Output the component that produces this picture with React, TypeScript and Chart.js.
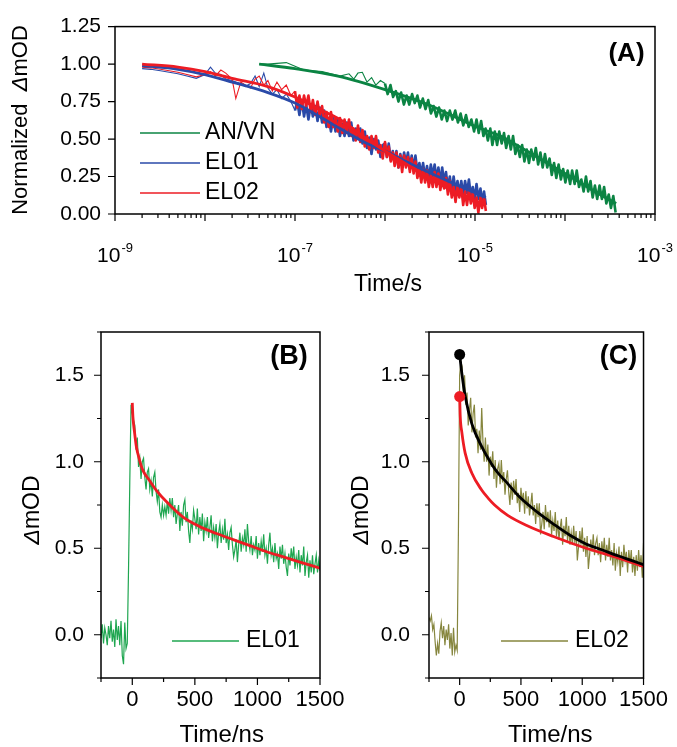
import React, { useEffect, useRef } from "react";
import { Chart, registerables } from "chart.js";

Chart.register(...registerables);

const FONT = "'Liberation Sans', Arial, sans-serif";

// ---------------- Panel A data (time in s, normalized ΔmOD) ----------------
const A_EL_TIME = [
  2.0e-9, 2.5e-9, 3.2e-9, 4.0e-9, 5.0e-9, 6.3e-9, 8.0e-9, 1.0e-8, 1.15e-8, 1.3e-8,
  1.5e-8, 1.7e-8, 2.0e-8, 2.2e-8, 2.5e-8, 2.8e-8, 3.2e-8, 3.6e-8, 4.0e-8, 4.5e-8,
  5.0e-8, 5.6e-8, 6.3e-8, 7.1e-8, 8.0e-8, 9.0e-8,
  1.0e-7, 1.06e-7, 1.12e-7, 1.19e-7, 1.26e-7, 1.33e-7, 1.41e-7, 1.5e-7, 1.58e-7, 1.68e-7,
  1.78e-7, 1.88e-7, 2.0e-7, 2.11e-7, 2.24e-7, 2.37e-7, 2.51e-7, 2.66e-7, 2.82e-7, 2.99e-7,
  3.16e-7, 3.35e-7, 3.55e-7, 3.76e-7, 3.98e-7, 4.22e-7, 4.47e-7, 4.73e-7, 5.01e-7, 5.31e-7,
  5.62e-7, 5.96e-7, 6.31e-7, 6.68e-7, 7.08e-7, 7.5e-7, 7.94e-7, 8.41e-7, 8.91e-7, 9.44e-7,
  1.0e-6, 1.05e-6, 1.1e-6, 1.16e-6, 1.22e-6, 1.28e-6, 1.34e-6, 1.41e-6, 1.48e-6, 1.55e-6,
  1.63e-6, 1.71e-6, 1.8e-6, 1.89e-6, 1.98e-6, 2.08e-6, 2.18e-6, 2.29e-6, 2.41e-6, 2.53e-6,
  2.65e-6, 2.79e-6, 2.93e-6, 3.07e-6, 3.23e-6, 3.39e-6, 3.56e-6, 3.73e-6, 3.92e-6, 4.12e-6,
  4.32e-6, 4.54e-6, 4.76e-6, 5.0e-6, 5.25e-6, 5.52e-6, 5.79e-6, 6.08e-6, 6.39e-6, 6.7e-6,
  7.04e-6, 7.39e-6, 7.76e-6, 8.15e-6, 8.56e-6, 8.99e-6, 9.44e-6, 9.91e-6,
  1.04e-5, 1.09e-5, 1.15e-5, 1.2e-5, 1.26e-5, 1.32e-5,
];
const A_EL01 = [
  0.97, 0.965, 0.955, 0.945, 0.935, 0.92, 0.905, 0.93, 0.98, 0.94,
  0.93, 0.9, 0.89, 0.88, 0.87, 0.85, 0.87, 0.92, 0.85, 0.94,
  0.84, 0.8, 0.83, 0.77, 0.8, 0.75,
  0.69, 0.75, 0.66, 0.76, 0.65, 0.73, 0.63, 0.73, 0.65, 0.72,
  0.62, 0.71, 0.61, 0.69, 0.58, 0.64, 0.55, 0.64, 0.55, 0.63,
  0.52, 0.6, 0.52, 0.61, 0.52, 0.61, 0.49, 0.57, 0.5, 0.57,
  0.47, 0.55, 0.44, 0.51, 0.4, 0.5, 0.43, 0.49, 0.38, 0.46,
  0.47, 0.38, 0.47, 0.36, 0.42, 0.34, 0.42, 0.31, 0.4, 0.32,
  0.41, 0.34, 0.41, 0.3, 0.39, 0.3, 0.39, 0.28, 0.34, 0.26,
  0.34, 0.24, 0.32, 0.23, 0.33, 0.25, 0.33, 0.23, 0.31, 0.21,
  0.31, 0.21, 0.28, 0.17, 0.25, 0.15, 0.25, 0.15, 0.22, 0.13,
  0.22, 0.13, 0.22, 0.14, 0.23, 0.12, 0.18, 0.1,
  0.2, 0.1, 0.17, 0.07, 0.15, 0.06,
];
const A_EL02 = [
  0.98, 0.975, 0.965, 0.955, 0.945, 0.93, 0.915, 0.93, 0.95, 0.92,
  0.96, 0.94, 0.9, 0.77, 0.88, 0.86, 0.84, 0.9, 0.92, 0.86,
  0.89, 0.82, 0.88, 0.83, 0.86, 0.79,
  0.82, 0.71, 0.79, 0.7, 0.79, 0.72, 0.79, 0.68, 0.76, 0.66,
  0.75, 0.66, 0.72, 0.61, 0.68, 0.58, 0.68, 0.58, 0.64, 0.55,
  0.64, 0.54, 0.63, 0.54, 0.63, 0.52, 0.57, 0.49, 0.59, 0.48,
  0.56, 0.45, 0.52, 0.43, 0.52, 0.44, 0.52, 0.41, 0.46, 0.37,
  0.48, 0.38, 0.45, 0.35, 0.41, 0.32, 0.41, 0.31, 0.39, 0.28,
  0.39, 0.31, 0.38, 0.28, 0.37, 0.27, 0.35, 0.24, 0.3, 0.21,
  0.3, 0.21, 0.29, 0.18, 0.26, 0.18, 0.28, 0.18, 0.27, 0.16,
  0.24, 0.17, 0.24, 0.13, 0.22, 0.11, 0.18, 0.08, 0.18, 0.11,
  0.18, 0.06, 0.15, 0.06, 0.16, 0.07, 0.14, 0.04,
  0.11, 0.01, 0.11, 0.04, 0.11, 0.02,
];
const A_AN_TIME = [
  4.0e-8, 5.0e-8, 6.3e-8, 8.0e-8, 1.0e-7, 1.26e-7, 1.58e-7, 2.0e-7, 2.51e-7, 3.16e-7,
  3.98e-7, 4.5e-7, 5.0e-7, 5.6e-7, 6.3e-7, 7.1e-7, 7.9e-7, 8.9e-7,
  1.0e-6, 1.07e-6, 1.15e-6, 1.23e-6, 1.32e-6, 1.41e-6, 1.51e-6, 1.62e-6, 1.74e-6, 1.86e-6,
  2.0e-6, 2.14e-6, 2.29e-6, 2.45e-6, 2.63e-6, 2.82e-6, 3.02e-6, 3.24e-6, 3.47e-6, 3.72e-6,
  3.98e-6, 4.27e-6, 4.57e-6, 4.9e-6, 5.25e-6, 5.62e-6, 6.03e-6, 6.46e-6, 6.92e-6, 7.41e-6,
  7.94e-6, 8.51e-6, 9.12e-6, 9.77e-6,
  1.04e-5, 1.1e-5, 1.17e-5, 1.24e-5, 1.31e-5, 1.39e-5, 1.48e-5, 1.56e-5, 1.66e-5, 1.76e-5,
  1.86e-5, 1.98e-5, 2.1e-5, 2.22e-5, 2.36e-5, 2.5e-5, 2.65e-5, 2.81e-5, 2.97e-5, 3.15e-5,
  3.34e-5, 3.54e-5, 3.76e-5, 3.98e-5, 4.22e-5, 4.47e-5, 4.74e-5, 5.03e-5, 5.33e-5, 5.65e-5,
  5.99e-5, 6.35e-5, 6.73e-5, 7.13e-5, 7.56e-5, 8.01e-5, 8.49e-5, 9.0e-5, 9.54e-5,
  1.01e-4, 1.07e-4, 1.14e-4, 1.2e-4, 1.28e-4, 1.35e-4, 1.43e-4, 1.52e-4, 1.61e-4, 1.71e-4,
  1.81e-4, 1.92e-4, 2.03e-4, 2.15e-4, 2.28e-4, 2.42e-4, 2.57e-4, 2.72e-4, 2.88e-4, 3.06e-4,
  3.24e-4, 3.44e-4, 3.65e-4,
];
const A_ANVN = [
  1.0, 1.0, 1.005, 1.01, 0.985, 0.96, 0.955, 0.95, 0.935, 0.92,
  0.935, 0.9, 0.94, 0.945, 0.88, 0.91, 0.86, 0.89,
  0.87, 0.8, 0.86, 0.78, 0.82, 0.75, 0.81, 0.73, 0.79, 0.73,
  0.8, 0.74, 0.79, 0.71, 0.77, 0.7, 0.76, 0.67, 0.72, 0.65,
  0.71, 0.63, 0.69, 0.62, 0.69, 0.63, 0.69, 0.61, 0.67, 0.59,
  0.66, 0.58, 0.63, 0.55,
  0.63, 0.54, 0.62, 0.52, 0.57, 0.49, 0.57, 0.46, 0.55, 0.46,
  0.55, 0.47, 0.54, 0.44, 0.52, 0.43, 0.52, 0.4, 0.46, 0.38,
  0.46, 0.35, 0.43, 0.34, 0.43, 0.36, 0.44, 0.33, 0.41, 0.31,
  0.4, 0.31, 0.37, 0.26, 0.34, 0.24, 0.33, 0.23, 0.3,
  0.21, 0.29, 0.2, 0.29, 0.2, 0.29, 0.18, 0.23, 0.15, 0.25,
  0.15, 0.22, 0.11, 0.19, 0.1, 0.19, 0.1, 0.18, 0.07, 0.13,
  0.04, 0.12, 0.01,
];
const A_FIT_EL_TIME = [2e-9, 5e-9, 1e-8, 2e-8, 5e-8, 1e-7, 2e-7, 3.16e-7, 6.3e-7, 1e-6, 2e-6, 5e-6, 1.32e-5];
const A_FIT_EL01 = [0.99, 0.965, 0.93, 0.88, 0.81, 0.74, 0.64, 0.57, 0.47, 0.42, 0.33, 0.22, 0.11];
const A_FIT_EL02 = [1.0, 0.98, 0.95, 0.905, 0.85, 0.78, 0.69, 0.63, 0.5, 0.42, 0.31, 0.17, 0.06];
const A_FIT_AN_TIME = [4e-8, 1e-7, 3e-7, 1e-6, 3e-6, 1e-5, 2e-5, 3e-5, 1e-4, 2e-4, 3.7e-4];
const A_FIT_ANVN = [1.0, 0.97, 0.92, 0.83, 0.73, 0.585, 0.515, 0.455, 0.27, 0.16, 0.07];
const A_DECADES = [-9, -8, -7, -6, -5, -4];
const A_SIGNIF = [1, 2, 3, 4, 5, 6, 7, 8, 9];
const A_LABEL_EXP = [-9, -7, -5, -3];
const A_Y_TICKS = [0, 0.25, 0.5, 0.75, 1.0, 1.25];

// ---------------- Panels B and C (time in ns, ΔmOD) ----------------
const NS_TIME = [
  -250, -240, -230, -220, -210, -200, -190, -180, -170, -160,
  -150, -140, -130, -120, -110, -100, -90, -80, -70, -60,
  -50, -40, -30, -20, -10, 0, 10, 20, 30, 40,
  50, 60, 70, 80, 90, 100, 110, 120, 130, 140,
  150, 160, 170, 180, 190, 200, 210, 220, 230, 240,
  250, 260, 270, 280, 290, 300, 310, 320, 330, 340,
  350, 360, 370, 380, 390, 400, 410, 420, 430, 440,
  450, 460, 470, 480, 490, 500, 510, 520, 530, 540,
  550, 560, 570, 580, 590, 600, 610, 620, 630, 640,
  650, 660, 670, 680, 690, 700, 710, 720, 730, 740,
  750, 760, 770, 780, 790, 800, 810, 820, 830, 840,
  850, 860, 870, 880, 890, 900, 910, 920, 930, 940,
  950, 960, 970, 980, 990, 1000, 1010, 1020, 1030, 1040,
  1050, 1060, 1070, 1080, 1090, 1100, 1110, 1120, 1130, 1140,
  1150, 1160, 1170, 1180, 1190, 1200, 1210, 1220, 1230, 1240,
  1250, 1260, 1270, 1280, 1290, 1300, 1310, 1320, 1330, 1340,
  1350, 1360, 1370, 1380, 1390, 1400, 1410, 1420, 1430, 1440,
  1450, 1460, 1470, 1480, 1490, 1500,
];
const B_EL01 = [
  -0.02, 0.06, -0.05, 0.04, 0.0, -0.06, 0.05, -0.02, 0.08, -0.04,
  0.03, -0.07, 0.09, -0.03, 0.05, -0.06, 0.08, -0.12, -0.17, 0.07,
  -0.08, -0.05, 0.38, 0.88, 1.33, 1.28, 1.24,
  1.21, 1.07, 1.14, 0.97, 1.02, 0.9, 1.0, 1.02, 0.91, 0.84,
  0.94, 0.96, 0.84, 0.89, 0.8, 0.91, 0.94, 0.83, 0.77, 0.84,
  0.71, 0.68, 0.75, 0.69, 0.74, 0.69, 0.77, 0.7, 0.79, 0.72,
  0.79, 0.68, 0.75, 0.64, 0.7, 0.75, 0.6, 0.71, 0.63, 0.75,
  0.78, 0.65, 0.71, 0.6, 0.53, 0.66, 0.61, 0.72, 0.67, 0.61,
  0.73, 0.58, 0.68, 0.6, 0.7, 0.54, 0.65, 0.6, 0.68, 0.56,
  0.62, 0.69, 0.54, 0.62, 0.56, 0.64, 0.5, 0.59, 0.64, 0.53,
  0.61, 0.55, 0.67, 0.53, 0.58, 0.49, 0.59, 0.62, 0.52, 0.45,
  0.49, 0.55, 0.42, 0.52, 0.59, 0.48, 0.56, 0.52, 0.61, 0.48,
  0.64, 0.54, 0.49, 0.57, 0.46, 0.52, 0.49, 0.57, 0.44, 0.53,
  0.46, 0.54, 0.48, 0.58, 0.46, 0.5, 0.41, 0.52, 0.59, 0.46,
  0.5, 0.42, 0.53, 0.44, 0.47, 0.38, 0.51, 0.44, 0.52, 0.41,
  0.47, 0.39, 0.34, 0.47, 0.4, 0.5, 0.43, 0.51, 0.38, 0.45,
  0.4, 0.49, 0.36, 0.46, 0.4, 0.51, 0.34, 0.42, 0.46, 0.33,
  0.43, 0.36, 0.46, 0.35, 0.41, 0.46, 0.36, 0.43, 0.37,
];
const C_EL02 = [
  0.1, 0.08, 0.11, 0.03, 0.06, -0.04, -0.12, -0.05, -0.11, 0.02,
  0.07, -0.02, 0.05, -0.06, 0.03, -0.03, 0.06, -0.08, 0.01, -0.12,
  0.04, -0.1, -0.06, -0.09, 0.6, 1.5, 1.58,
  1.55, 1.39, 1.5, 1.33, 1.4, 1.21, 1.3, 1.37, 1.17, 1.28,
  1.33, 1.14, 1.19, 1.05, 1.18, 1.07, 1.31, 1.12, 1.0, 1.14,
  1.0, 1.1, 0.92, 1.03, 0.97, 1.06, 0.9, 1.01, 0.85, 0.96,
  0.99, 0.87, 1.01, 0.88, 0.94, 0.81, 0.9, 0.95, 0.83, 0.75,
  0.88, 0.78, 0.89, 0.81, 0.9, 0.76, 0.82, 0.71, 0.85, 0.77,
  0.82, 0.7, 0.83, 0.73, 0.8, 0.69, 0.75, 0.82, 0.69, 0.75,
  0.64, 0.76, 0.68, 0.76, 0.58, 0.64, 0.71, 0.61, 0.75, 0.65,
  0.71, 0.62, 0.72, 0.58, 0.66, 0.6, 0.71, 0.57, 0.66, 0.55,
  0.62, 0.67, 0.52, 0.63, 0.57, 0.68, 0.54, 0.63, 0.52, 0.59,
  0.52, 0.63, 0.53, 0.6, 0.43, 0.51, 0.6, 0.52, 0.62, 0.48,
  0.56, 0.45, 0.57, 0.38, 0.46, 0.55, 0.48, 0.58, 0.46, 0.53,
  0.56, 0.46, 0.53, 0.42, 0.54, 0.47, 0.56, 0.43, 0.52, 0.45,
  0.56, 0.43, 0.49, 0.4, 0.53, 0.37, 0.47, 0.42, 0.51, 0.34,
  0.48, 0.39, 0.52, 0.43, 0.48, 0.36, 0.49, 0.41, 0.49, 0.36,
  0.45, 0.34, 0.46, 0.37, 0.49, 0.39, 0.46, 0.33, 0.53,
];
const B_FIT_T = [0, 5, 18, 32, 58, 85, 139, 192, 272, 406, 539, 673, 806, 940, 1074, 1207, 1340, 1500];
const B_FIT_V = [1.34, 1.26, 1.17, 1.09, 1.01, 0.95, 0.89, 0.835, 0.77, 0.68, 0.625, 0.585, 0.55, 0.515, 0.48, 0.45, 0.42, 0.385];
const C_RED_T = [0, 5, 18, 45, 99, 178, 232, 285, 392, 552, 765, 1031, 1297, 1500];
const C_RED_V = [1.377, 1.26, 1.17, 1.05, 0.935, 0.838, 0.79, 0.75, 0.69, 0.63, 0.568, 0.5, 0.443, 0.395];
const C_BLACK_T = [0, 18, 45, 99, 178, 258, 312, 365, 498, 631, 765, 900, 1031, 1165, 1297, 1400, 1500];
const C_BLACK_V = [1.62, 1.51, 1.38, 1.22, 1.09, 0.99, 0.935, 0.895, 0.79, 0.71, 0.64, 0.575, 0.525, 0.49, 0.455, 0.43, 0.405];
const C_DOT_T = [0, 0];
const C_DOT_V = [1.62, 1.377];

// ---------------- styles ----------------
const GREEN_A = "#0b8443";
const BLUE = "#2a4aa8";
const RED = "#ed1c24";
const GREEN_B = "#1fa650";
const OLIVE = "#86863e";
const EL_SPARSE_END = 26; // index where the dense record begins
const AN_SPARSE_END = 18;

type Pt = { x: number; y: number };
const zip = (xs: number[], ys: number[]): Pt[] => xs.map((x, i) => ({ x, y: ys[i] }));

const near = (v: number, step: number) => Math.abs(v / step - Math.round(v / step)) < 1e-6;

function frame(ctx: CanvasRenderingContext2D, a: any) {
  ctx.save();
  ctx.strokeStyle = "#000";
  ctx.lineWidth = 1.5;
  ctx.strokeRect(a.left, a.top, a.right - a.left, a.bottom - a.top);
  ctx.restore();
}

function ticksX(ctx: CanvasRenderingContext2D, scale: any, a: any, isMajor: (v: number) => boolean, maj: number, min: number) {
  ctx.save();
  ctx.strokeStyle = "#000";
  ctx.lineWidth = 1.2;
  ctx.beginPath();
  for (const t of scale.ticks) {
    const p = scale.getPixelForValue(t.value);
    const len = isMajor(t.value) ? maj : min;
    ctx.moveTo(p, a.bottom);
    ctx.lineTo(p, a.bottom + len);
  }
  ctx.stroke();
  ctx.restore();
}

function ticksY(ctx: CanvasRenderingContext2D, scale: any, a: any, isMajor: (v: number) => boolean, maj: number, min: number) {
  ctx.save();
  ctx.strokeStyle = "#000";
  ctx.lineWidth = 1.2;
  ctx.beginPath();
  for (const t of scale.ticks) {
    const p = scale.getPixelForValue(t.value);
    const len = isMajor(t.value) ? maj : min;
    ctx.moveTo(a.left, p);
    ctx.lineTo(a.left - len, p);
  }
  ctx.stroke();
  ctx.restore();
}

function text(ctx: CanvasRenderingContext2D, s: string, x: number, y: number, font: string, align: CanvasTextAlign = "center") {
  ctx.save();
  ctx.fillStyle = "#000";
  ctx.font = font;
  ctx.textAlign = align;
  ctx.textBaseline = "middle";
  ctx.fillText(s, x, y);
  ctx.restore();
}

function rotTitle(ctx: CanvasRenderingContext2D, cx: number, cy: number, parts: { t: string; it?: boolean }[], size: number) {
  ctx.save();
  ctx.translate(cx, cy);
  ctx.rotate(-Math.PI / 2);
  ctx.fillStyle = "#000";
  ctx.textBaseline = "middle";
  ctx.textAlign = "left";
  const fonts = parts.map((p) => `${p.it ? "italic " : ""}${size}px ${FONT}`);
  const widths = parts.map((p, i) => {
    ctx.font = fonts[i];
    return ctx.measureText(p.t).width;
  });
  let x = -widths.reduce((s, w) => s + w, 0) / 2;
  parts.forEach((p, i) => {
    ctx.font = fonts[i];
    ctx.fillText(p.t, x, 0);
    x += widths[i];
  });
  ctx.restore();
}

function legendRow(ctx: CanvasRenderingContext2D, chart: any, idx: number, x1: number, x2: number, tx: number, y: number, size: number) {
  const ds = chart.data.datasets[idx];
  ctx.save();
  ctx.strokeStyle = ds.borderColor;
  ctx.lineWidth = 1.5;
  ctx.beginPath();
  ctx.moveTo(x1, y);
  ctx.lineTo(x2, y);
  ctx.stroke();
  ctx.restore();
  text(ctx, ds.label, tx, y, `${size}px ${FONT}`, "left");
}

const noLegend = { legend: { display: false }, tooltip: { enabled: false } };

function buildA(canvas: HTMLCanvasElement) {
  const logTicks = [...A_DECADES.flatMap((d) => A_SIGNIF.map((s) => s * Math.pow(10, d))), 1e-3];
  const isDecade = (v: number) => {
    const e = Math.log10(v);
    return Math.abs(e - Math.round(e)) < 1e-6;
  };
  const el = zip(A_EL_TIME, A_EL01);
  const er = zip(A_EL_TIME, A_EL02);
  const an = zip(A_AN_TIME, A_ANVN);
  const decor = {
    id: "decorA",
    afterDraw(chart: any) {
      const { ctx, chartArea: a } = chart;
      frame(ctx, a);
      ticksX(ctx, chart.scales.x, a, isDecade, 7, 4);
      ticksY(ctx, chart.scales.y, a, () => true, 7, 7);
      ctx.save();
      ctx.fillStyle = "#000";
      ctx.textBaseline = "alphabetic";
      ctx.textAlign = "left";
      for (const e of A_LABEL_EXP) {
        const p = chart.scales.x.getPixelForValue(Math.pow(10, e));
        ctx.font = `21px ${FONT}`;
        const w1 = ctx.measureText("10").width;
        ctx.font = `13px ${FONT}`;
        const es = String(e);
        const w2 = ctx.measureText(es).width;
        const x0 = p - (w1 + w2 + 1) / 2;
        ctx.font = `21px ${FONT}`;
        ctx.fillText("10", x0, a.bottom + 48);
        ctx.font = `13px ${FONT}`;
        ctx.fillText(es, x0 + w1 + 1, a.bottom + 38);
      }
      ctx.restore();
      text(ctx, "Time/s", 388, 285, `23px ${FONT}`);
      rotTitle(ctx, 21, 120, [{ t: "Normalized  " }, { t: "Δ", it: true }, { t: "mOD" }], 22);
      legendRow(ctx, chart, 6, 140, 200, 205, 133, 23);
      legendRow(ctx, chart, 4, 140, 200, 205, 163, 23);
      legendRow(ctx, chart, 2, 140, 200, 205, 193, 23);
      text(ctx, "(A)", 626.5, 54, `bold 26px ${FONT}`);
    },
  };
  const thin = { pointRadius: 0, borderWidth: 1.1 };
  const band = { pointRadius: 0, borderWidth: 2.6, borderJoinStyle: "round" };
  const fit = { pointRadius: 0, borderWidth: 2.8, cubicInterpolationMode: "monotone" };
  return new Chart(canvas, {
    type: "line",
    data: {
      datasets: [
        { label: "EL02 fit", data: zip(A_FIT_EL_TIME, A_FIT_EL02), borderColor: RED, ...fit, order: 0 },
        { label: "EL01 fit", data: zip(A_FIT_EL_TIME, A_FIT_EL01), borderColor: BLUE, ...fit, order: 1 },
        { label: "EL02", data: er.slice(0, EL_SPARSE_END + 1), borderColor: RED, ...thin, order: 2 },
        { label: "EL02 dense", data: er.slice(EL_SPARSE_END), borderColor: RED, ...band, order: 3 },
        { label: "EL01", data: el.slice(0, EL_SPARSE_END + 1), borderColor: BLUE, ...thin, order: 4 },
        { label: "EL01 dense", data: el.slice(EL_SPARSE_END), borderColor: BLUE, ...band, order: 5 },
        { label: "AN/VN", data: an.slice(0, AN_SPARSE_END + 1), borderColor: GREEN_A, ...thin, order: 6 },
        { label: "AN/VN dense", data: an.slice(AN_SPARSE_END), borderColor: GREEN_A, ...band, order: 7 },
        { label: "AN/VN fit", data: zip(A_FIT_AN_TIME, A_FIT_ANVN), borderColor: GREEN_A, ...fit, order: 8 },
      ],
    } as any,
    options: {
      responsive: false,
      animation: false,
      devicePixelRatio: 1,
      events: [],
      layout: { padding: { left: 0, top: 24, right: 22, bottom: 447 } },
      plugins: noLegend as any,
      scales: {
        x: {
          type: "logarithmic",
          min: 1e-9,
          max: 1e-3,
          grid: { display: false, drawTicks: false },
          border: { display: false },
          ticks: { display: false },
          afterBuildTicks: (scale: any) => {
            scale.ticks = logTicks.map((v) => ({ value: v }));
          },
          afterFit: (scale: any) => {
            scale.height = 86;
          },
        },
        y: {
          type: "linear",
          min: 0,
          max: 1.25,
          grid: { display: false, drawTicks: false },
          border: { display: false },
          afterBuildTicks: (scale: any) => {
            scale.ticks = A_Y_TICKS.map((v) => ({ value: v }));
          },
          ticks: {
            padding: 14,
            color: "#000",
            font: { family: FONT, size: 21 },
            callback: (v: any) => Number(v).toFixed(2),
          },
          afterFit: (scale: any) => {
            scale.width = 115;
          },
        },
      },
    } as any,
    plugins: [decor],
  });
}

function buildBC(canvas: HTMLCanvasElement, which: "B" | "C") {
  const isB = which === "B";
  const decor = {
    id: "decor" + which,
    afterDraw(chart: any) {
      const { ctx, chartArea: a } = chart;
      frame(ctx, a);
      ticksX(ctx, chart.scales.x, a, (v) => near(v, 500), 7, 4);
      ticksY(ctx, chart.scales.y, a, (v) => near(v, 0.5), 7, 4);
      if (isB) {
        text(ctx, "Time/ns", 221.7, 735, `24px ${FONT}`);
        rotTitle(ctx, 33, 510, [{ t: "Δ", it: true }, { t: "mOD" }], 23);
        legendRow(ctx, chart, 1, 172, 239, 246, 641, 23);
        text(ctx, "(B)", 289, 357, `bold 27px ${FONT}`);
      } else {
        text(ctx, "Time/ns", 550.3, 735, `24px ${FONT}`);
        rotTitle(ctx, 362, 510, [{ t: "Δ", it: true }, { t: "mOD" }], 23);
        legendRow(ctx, chart, 3, 501, 568, 575, 641, 23);
        text(ctx, "(C)", 618.5, 357, `bold 27px ${FONT}`);
      }
    },
  };
  const datasets: any[] = isB
    ? [
        { label: "fit", data: zip(B_FIT_T, B_FIT_V), borderColor: RED, borderWidth: 2.8, pointRadius: 0, cubicInterpolationMode: "monotone", order: 0 },
        { label: "EL01", data: zip(NS_TIME, B_EL01), borderColor: GREEN_B, borderWidth: 1.2, pointRadius: 0, order: 1 },
      ]
    : [
        {
          label: "start",
          data: zip(C_DOT_T, C_DOT_V),
          showLine: false,
          borderColor: "#000",
          pointRadius: 5.5,
          pointBorderWidth: 0,
          pointBackgroundColor: ["#000", RED],
          order: 0,
        },
        { label: "fit black", data: zip(C_BLACK_T, C_BLACK_V), borderColor: "#000", borderWidth: 2.8, pointRadius: 0, cubicInterpolationMode: "monotone", order: 1 },
        { label: "fit red", data: zip(C_RED_T, C_RED_V), borderColor: RED, borderWidth: 2.8, pointRadius: 0, cubicInterpolationMode: "monotone", order: 2 },
        { label: "EL02", data: zip(NS_TIME, C_EL02), borderColor: OLIVE, borderWidth: 1.2, pointRadius: 0, order: 3 },
      ];
  return new Chart(canvas, {
    type: "line",
    data: { datasets } as any,
    options: {
      responsive: false,
      animation: false,
      devicePixelRatio: 1,
      events: [],
      layout: { padding: { left: 0, top: 332, right: isB ? 357 : 28, bottom: 0 } },
      plugins: noLegend as any,
      scales: {
        x: {
          type: "linear",
          min: -250,
          max: 1500,
          grid: { display: false, drawTicks: false },
          border: { display: false },
          ticks: {
            stepSize: 250,
            autoSkip: false,
            maxRotation: 0,
            padding: 9,
            color: "#000",
            font: { family: FONT, size: 22 },
            callback: (v: any) => (near(Number(v), 500) ? String(Math.round(Number(v))) : ""),
          },
          afterFit: (scale: any) => {
            scale.height = 69;
          },
        },
        y: {
          type: "linear",
          min: -0.25,
          max: 1.75,
          grid: { display: false, drawTicks: false },
          border: { display: false },
          ticks: {
            stepSize: 0.25,
            autoSkip: false,
            padding: isB ? 17 : 19,
            color: "#000",
            font: { family: FONT, size: 21 },
            callback: (v: any) => (near(Number(v), 0.5) ? Number(v).toFixed(1) : ""),
          },
          afterFit: (scale: any) => {
            scale.width = isB ? 101 : 429;
          },
        },
      },
    } as any,
    plugins: [decor],
  });
}

function Panel({ build }: { build: (c: HTMLCanvasElement) => Chart }) {
  const ref = useRef<HTMLCanvasElement>(null);
  useEffect(() => {
    const chart = build(ref.current as HTMLCanvasElement);
    return () => chart.destroy();
  }, [build]);
  return (
    <canvas
      ref={ref}
      width={677}
      height={747}
      style={{ position: "absolute", left: 0, top: 0, width: 677, height: 747 }}
    />
  );
}

const buildB = (c: HTMLCanvasElement) => buildBC(c, "B");
const buildC = (c: HTMLCanvasElement) => buildBC(c, "C");

export default function App() {
  return (
    <div style={{ position: "absolute", left: 0, top: 0, width: 677, height: 747, background: "#fff", overflow: "hidden" }}>
      <Panel build={buildA} />
      <Panel build={buildB} />
      <Panel build={buildC} />
    </div>
  );
}
